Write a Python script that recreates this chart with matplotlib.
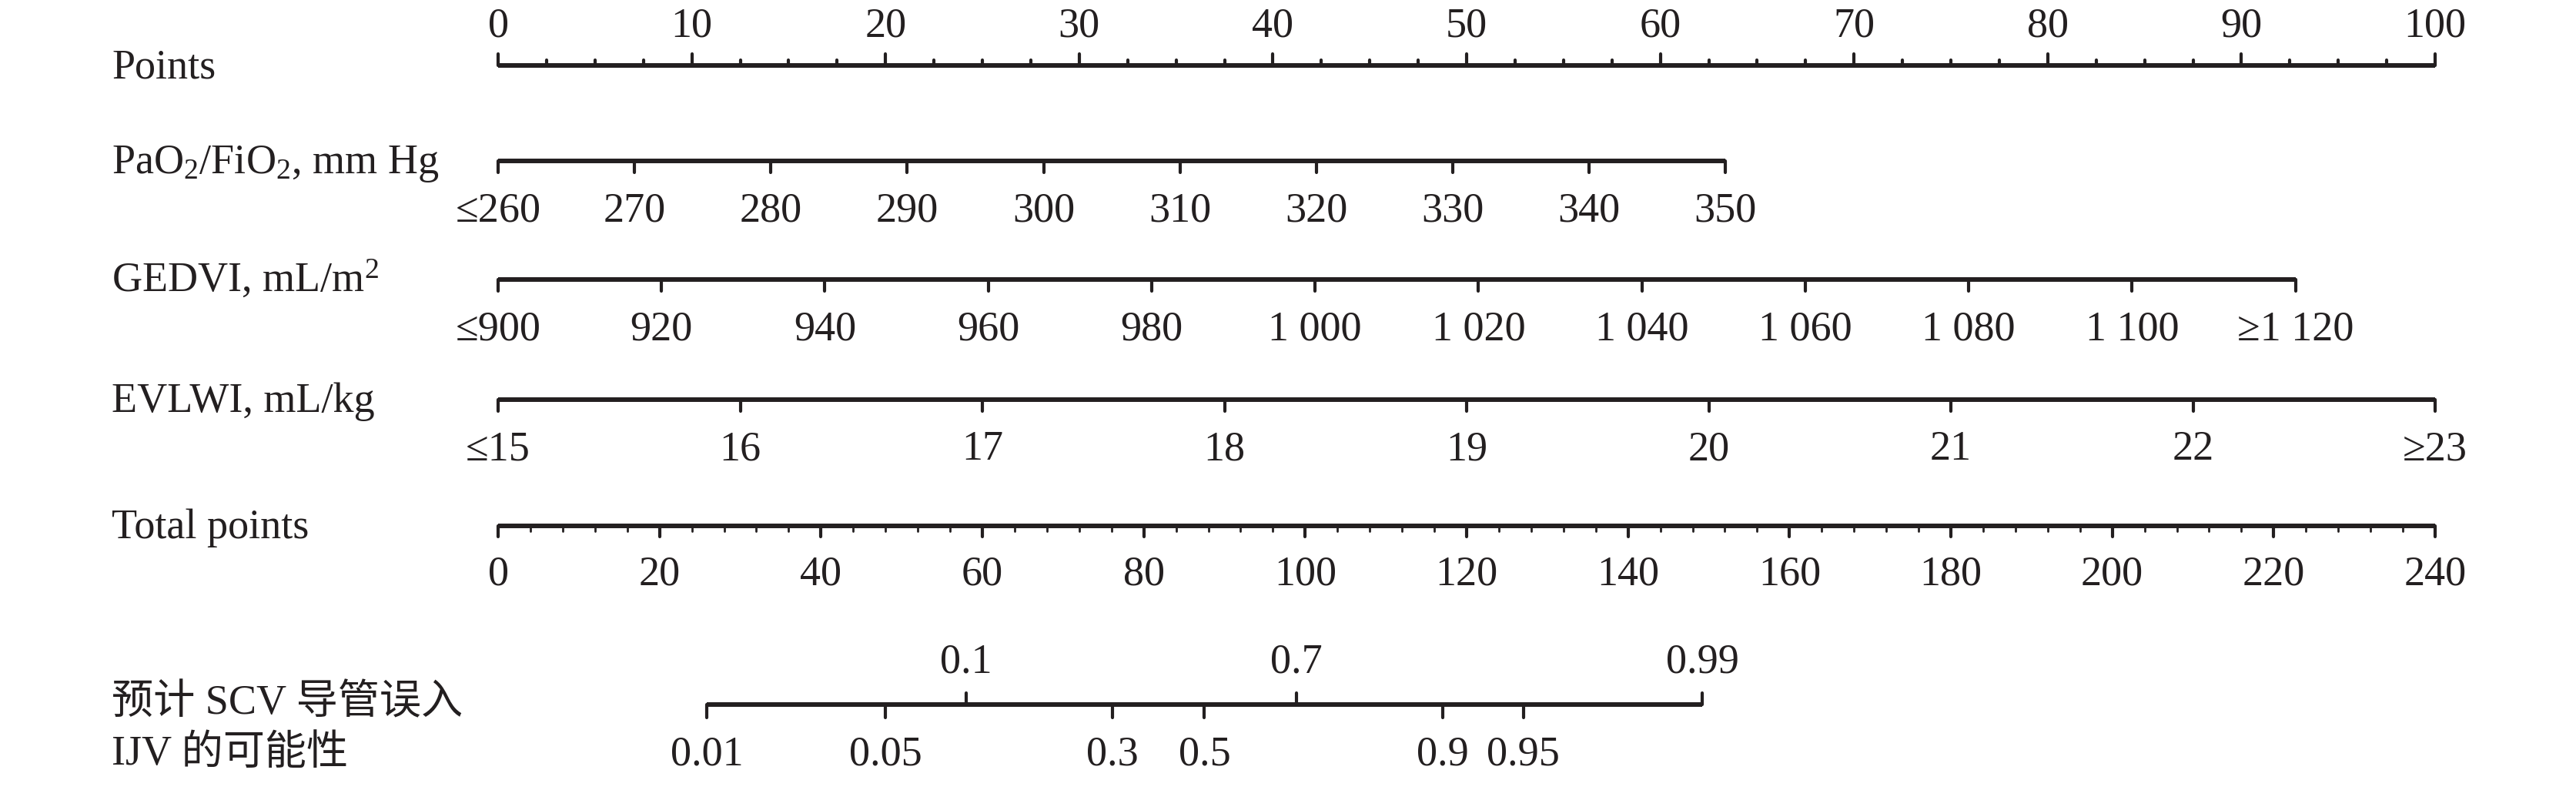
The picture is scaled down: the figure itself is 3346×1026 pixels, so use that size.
import numpy as np
import matplotlib.pyplot as plt
from matplotlib.transforms import blended_transform_factory

plt.rcParams['font.family'] = ['Liberation Serif', 'Noto Sans CJK SC', 'DejaVu Sans']
plt.rcParams['mathtext.default'] = 'regular'

# ---- data ----
points_major = [0, 10, 20, 30, 40, 50, 60, 70, 80, 90, 100]
points_minor = np.arange(0, 100.01, 2.5)

pao2_values = [260, 270, 280, 290, 300, 310, 320, 330, 340, 350]
pao2_labels = ['≤260', '270', '280', '290', '300', '310', '320', '330', '340', '350']
pao2_pts_per_unit = 0.704

gedvi_values = [900, 920, 940, 960, 980, 1000, 1020, 1040, 1060, 1080, 1100, 1120]
gedvi_labels = ['≤900', '920', '940', '960', '980', '1 000', '1 020', '1 040',
                '1 060', '1 080', '1 100', '≥1 120']
gedvi_pts_per_unit = 0.4218

evlwi_values = [15, 16, 17, 18, 19, 20, 21, 22, 23]
evlwi_labels = ['≤15', '16', '17', '18', '19', '20', '21', '22', '≥23']
evlwi_pts_per_unit = 12.5

total_major = [0, 20, 40, 60, 80, 100, 120, 140, 160, 180, 200, 220, 240]
total_minor = np.arange(0, 240.01, 4)
total_max = 240

# logistic model: lp = intercept + slope * total points
lp_intercept = -6.52
lp_slope = 0.0745
prob_upper = [0.1, 0.7, 0.99]
prob_lower = [0.01, 0.05, 0.3, 0.5, 0.9, 0.95]
prob_range = [0.01, 0.99]

row_labels = ['Points', r'PaO$_2$/FiO$_2$, mm Hg', r'GEDVI, mL/m$^2$',
              'EVLWI, mL/kg', 'Total points']

# ---- layout (pixels) ----
W, H = 3346, 1026
x0_px, px_per_pt = 647, 25.16
row_y = [85, 209, 363, 519, 683]
prob_y = 915
col = '#231f20'
fs = 39
lw_line = 4.3
lw_tick = 3.0

fig = plt.figure(figsize=(W / 100, H / 100), dpi=100)
ax = fig.add_axes([0, 0, 1, 1])
ax.set_xlim(-x0_px / px_per_pt, (W - x0_px) / px_per_pt)
ax.set_ylim(H, 0)
ax.axis('off')
lab_tr = blended_transform_factory(ax.transAxes, ax.transData)


def axis_line(y, xs):
    ax.plot([min(xs), max(xs)], [y, y], color=col, lw=lw_line, solid_capstyle='butt')


def ticks(xs, y, length, lw=lw_tick):
    ax.vlines(xs, y, y + length, colors=col, lw=lw, capstyle='round')


def tick_labels(xs, labels, y):
    for x, s in zip(xs, labels):
        ax.text(x, y, s, ha='center', va='baseline', fontsize=fs, color=col)


# Points
axis_line(row_y[0], points_major)
ticks(points_major, row_y[0], -15)
ticks([m for m in points_minor if m % 10], row_y[0], -7)
tick_labels(points_major, [str(v) for v in points_major], row_y[0] - 38)

# PaO2/FiO2
pao2_x = [(v - pao2_values[0]) * pao2_pts_per_unit for v in pao2_values]
axis_line(row_y[1], pao2_x)
ticks(pao2_x, row_y[1], 15)
tick_labels(pao2_x, pao2_labels, row_y[1] + 78)

# GEDVI
gedvi_x = [(v - gedvi_values[0]) * gedvi_pts_per_unit for v in gedvi_values]
axis_line(row_y[2], gedvi_x)
ticks(gedvi_x, row_y[2], 15)
tick_labels(gedvi_x, gedvi_labels, row_y[2] + 78)

# EVLWI
evlwi_x = [(v - evlwi_values[0]) * evlwi_pts_per_unit for v in evlwi_values]
axis_line(row_y[3], evlwi_x)
ticks(evlwi_x, row_y[3], 15)
tick_labels(evlwi_x, evlwi_labels, row_y[3] + 78)

# Total points
tp_to_x = 100 / total_max
total_x = [v * tp_to_x for v in total_major]
axis_line(row_y[4], total_x)
ticks(total_x, row_y[4], 14)
ticks([m * tp_to_x for m in total_minor if m % 20], row_y[4], 7, lw=2.0)
tick_labels(total_x, [str(v) for v in total_major], row_y[4] + 76)


# Probability
def prob_to_x(p):
    lp = np.log(p / (1 - p))
    return (lp - lp_intercept) / lp_slope * tp_to_x


axis_line(prob_y, [prob_to_x(p) for p in prob_range])
up_x = [prob_to_x(p) for p in prob_upper]
lo_x = [prob_to_x(p) for p in prob_lower]
ticks(up_x, prob_y, -15)
ticks(lo_x, prob_y, 17)
tick_labels(up_x, [f'{p:g}' for p in prob_upper], prob_y - 42)
tick_labels(lo_x, [f'{p:g}' for p in prob_lower], prob_y + 78)

# Row labels
lx = 145 / W
for y, s in zip(row_y, row_labels):
    ax.text(lx, y + 16, s, transform=lab_tr, ha='left', va='baseline', fontsize=fs, color=col)
ax.text(lx, 927, '预计 SCV 导管误入', transform=lab_tr, ha='left', va='baseline',
        fontsize=fs, color=col)
ax.text(lx, 993, 'IJV 的可能性', transform=lab_tr, ha='left', va='baseline',
        fontsize=fs, color=col)

fig.savefig('out.png', dpi=100)
